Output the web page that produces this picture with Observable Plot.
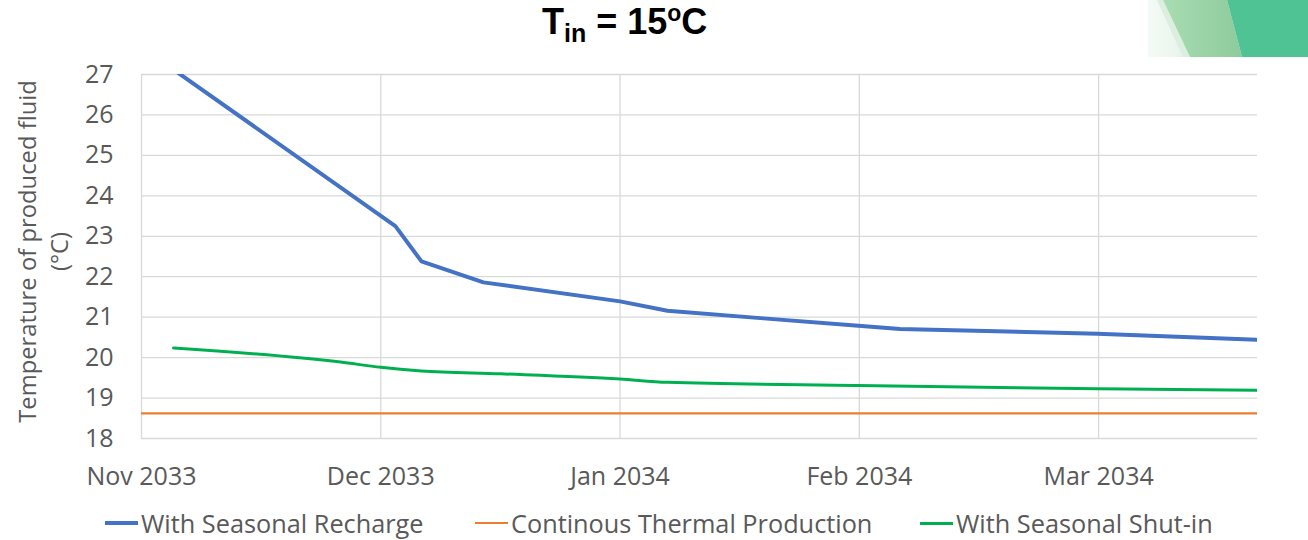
<!DOCTYPE html>
<html>
<head>
<meta charset="utf-8">
<script src="https://cdn.jsdelivr.net/npm/d3@7"></script>
<script src="https://cdn.jsdelivr.net/npm/@observablehq/plot@0.6"></script>
<style>
  html, body { margin: 0; padding: 0; background: #fff; width: 1308px; height: 540px; overflow: hidden; }
  #wrap { position: relative; width: 1308px; height: 540px; }
  #title { position: absolute; left: 542px; top: 1px; font-family: "Liberation Sans", Arial, sans-serif; font-weight: bold; font-size: 36px; color: #000; white-space: nowrap; }
  #title sub { font-size: 25px; vertical-align: -8px; line-height: 0; }
  #title sup { font-size: 23px; vertical-align: 13px; line-height: 0; }
  #deco { position: absolute; right: 0; top: 0; }
  #chart { position: absolute; left: 0; top: 46px; }
  .leg { position: absolute; top: 507px; height: 32px; display: flex; align-items: center; font-family: "Open Sans", sans-serif; font-size: 25.3px; color: #595959; white-space: nowrap; }
  .sw { display: inline-block; width: 33px; margin-right: 3px; }
</style>
</head>
<body>
<div id="wrap">
  <svg id="deco" width="160" height="58" viewBox="1148 0 160 58">
    <defs>
      <linearGradient id="fade" x1="0" x2="1" y1="0" y2="0">
        <stop offset="0" stop-color="#ffffff"/>
        <stop offset="1" stop-color="#e6f4ea"/>
      </linearGradient>
      <linearGradient id="band" x1="0" x2="1" y1="0" y2="0">
        <stop offset="0" stop-color="#a9dcb2"/>
        <stop offset="1" stop-color="#8dcb9c"/>
      </linearGradient>
    </defs>
    <polygon points="1120,0 1160,0 1186,57 1120,57" fill="url(#fade)"/>
    <polygon points="1157,0 1163,0 1190,57 1183,57" fill="#dbeedf"/>
    <polygon points="1163,0 1227,0 1242,57 1190,57" fill="url(#band)"/>
    <polygon points="1227,0 1308,0 1308,57 1242,57" fill="#4fc393"/>
  </svg>
  <div id="title">T<sub>in</sub> = 15<sup>o</sup>C</div>
  <div id="chart"></div>
  <div class="leg" style="left:105px"><span class="sw" style="border-top:4px solid #4472C4"></span>With Seasonal Recharge</div>
  <div class="leg" style="left:475px"><span class="sw" style="border-top:2px solid #ED7D31"></span>Continous Thermal Production</div>
  <div class="leg" style="left:920px"><span class="sw" style="border-top:3px solid #00B050"></span>With Seasonal Shut-in</div>
</div>
<script>
// Month tick labels (x in months since 1 Nov 2033)
const monthTicks = [0, 1, 2, 3, 4];
const monthLabels = ["Nov 2033", "Dec 2033", "Jan 2034", "Feb 2034", "Mar 2034"];
const yTicks = [18, 19, 20, 21, 22, 23, 24, 25, 26, 27];

// With Seasonal Recharge
const rechargeX = [0.134, 1.061, 1.170, 1.429, 2.0, 2.198, 2.6, 2.996, 3.17, 3.995, 4.664];
const rechargeY = [27.12, 23.25, 22.38, 21.86, 21.39, 21.16, 20.97, 20.79, 20.71, 20.59, 20.44];

// Continous Thermal Production
const continuousX = [0, 4.664];
const continuousY = [18.62, 18.62];

// With Seasonal Shut-in
const shutinX = [0.134, 0.832, 1.0, 1.17, 1.5, 2.0, 2.198, 2.996, 3.995, 4.664];
const shutinY = [20.24, 19.89, 19.76, 19.67, 19.60, 19.47, 19.39, 19.31, 19.23, 19.19];

const toRows = (xs, ys) => xs.map((x, i) => ({x, y: ys[i]}));
const recharge = toRows(rechargeX, rechargeY);
const continuous = toRows(continuousX, continuousY);
const shutin = toRows(shutinX, shutinY);

const font = "'Open Sans', sans-serif";

const chart = Plot.plot({
  width: 1308,
  height: 462,
  marginLeft: 141,
  marginRight: 51,
  marginTop: 28,
  marginBottom: 70,
  style: {fontFamily: font, fontSize: "25px", color: "#595959", background: "transparent", overflow: "visible"},
  x: {domain: [0, 4.664], label: null},
  y: {domain: [18, 27], label: null},
  marks: [
    Plot.gridX(monthTicks, {stroke: "#d9d9d9", strokeOpacity: 1, strokeWidth: 1.3}),
    Plot.gridY(yTicks, {stroke: "#d9d9d9", strokeOpacity: 1, strokeWidth: 1.3}),
    Plot.axisX({ticks: monthTicks, tickFormat: (d, i) => monthLabels[i], tickSize: 0, tickPadding: 29, fill: "#595959", fontSize: 25, label: null}),
    Plot.axisY({ticks: yTicks, tickSize: 0, tickPadding: 28, fill: "#595959", fontSize: 25, label: null}),
    Plot.line(continuous, {x: "x", y: "y", stroke: "#ED7D31", strokeWidth: 2.2, clip: true}),
    Plot.line(shutin, {x: "x", y: "y", stroke: "#00B050", strokeWidth: 3, curve: "monotone-x", clip: true}),
    Plot.line(recharge, {x: "x", y: "y", stroke: "#4472C4", strokeWidth: 4, clip: true}),
    Plot.text(["Temperature of produced fluid\n(°C)"], {frameAnchor: "left", textAnchor: "middle", lineAnchor: "middle", rotate: -90, dx: -100, dy: -5, fontSize: 23.8, fill: "#595959", lineHeight: 1.35, text: d => d})
  ]
});
document.getElementById("chart").appendChild(chart);
</script>
</body>
</html>
